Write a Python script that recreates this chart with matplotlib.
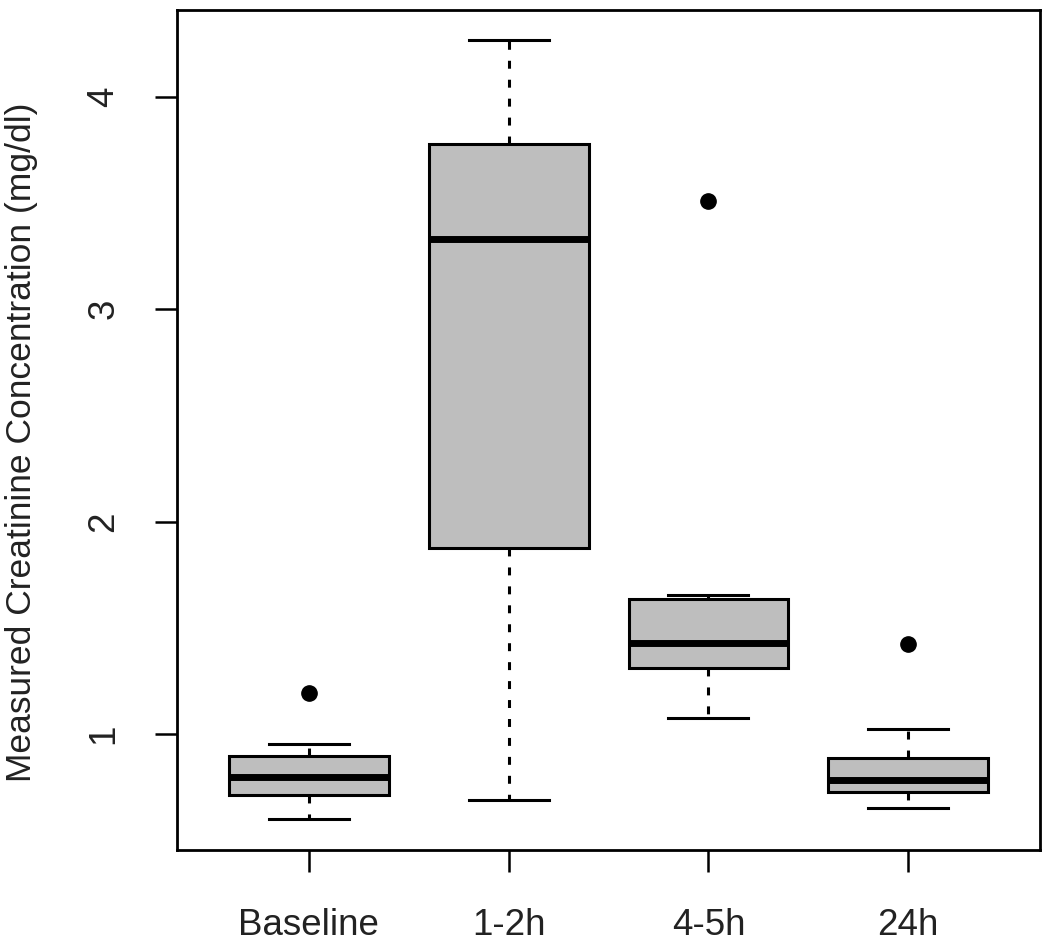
import matplotlib
matplotlib.use("Agg")
import matplotlib.pyplot as plt

# box statistics (mg/dl)
groups = ["Baseline", "1-2h", "4-5h", "24h"]
whisker_low = [0.599, 0.689, 1.077, 0.650]
q1 = [0.713, 1.877, 1.309, 0.727]
median = [0.796, 3.331, 1.430, 0.784]
q3 = [0.896, 3.776, 1.637, 0.889]
whisker_high = [0.953, 4.266, 1.653, 1.022]
outliers = [[1.192], [], [3.508], [1.424]]
y_ticks = [1, 2, 3, 4]

plt.rcParams["font.family"] = ["Liberation Sans", "DejaVu Sans"]

fig = plt.figure(figsize=(10.5, 9.47), dpi=100)
ax = fig.add_axes([0.1686, 0.1024, 0.8219, 0.887])

stats = []
for i, name in enumerate(groups):
    stats.append({
        "label": name,
        "whislo": whisker_low[i],
        "q1": q1[i],
        "med": median[i],
        "q3": q3[i],
        "whishi": whisker_high[i],
        "fliers": outliers[i],
    })

ax.bxp(
    stats,
    positions=range(1, len(groups) + 1),
    widths=0.8,
    patch_artist=True,
    showfliers=True,
    boxprops=dict(facecolor="#bebebe", edgecolor="black", linewidth=2.2),
    medianprops=dict(color="black", linewidth=5, solid_capstyle="butt"),
    whiskerprops=dict(color="black", linewidth=2.2, linestyle=(0, (2.6, 3.6))),
    capprops=dict(color="black", linewidth=2.2),
    flierprops=dict(marker="o", markerfacecolor="black", markeredgecolor="black",
                    markersize=11, linestyle="none"),
    capwidths=0.4,
)

ax.set_xlim(0.34, 4.66)
ax.set_ylim(0.454, 4.407)
ax.set_yticks(y_ticks)
ax.set_yticklabels([str(t) for t in y_ticks], rotation=90, va="center")
ax.set_xticks(range(1, len(groups) + 1))
ax.set_xticklabels(groups)
ax.tick_params(axis="y", length=16, width=1.8, labelsize=26.5, pad=24,
               color="black", labelcolor="#222222")
ax.tick_params(axis="x", length=16, width=1.8, labelsize=26.5, pad=26,
               color="black", labelcolor="#222222")
ax.set_ylabel("Measured Creatinine Concentration (mg/dl)", fontsize=25.5,
              color="#222222")
ax.yaxis.set_label_coords(-0.161, 0.485)
for s in ax.spines.values():
    s.set_linewidth(2)

fig.savefig("out.png", dpi=100)
